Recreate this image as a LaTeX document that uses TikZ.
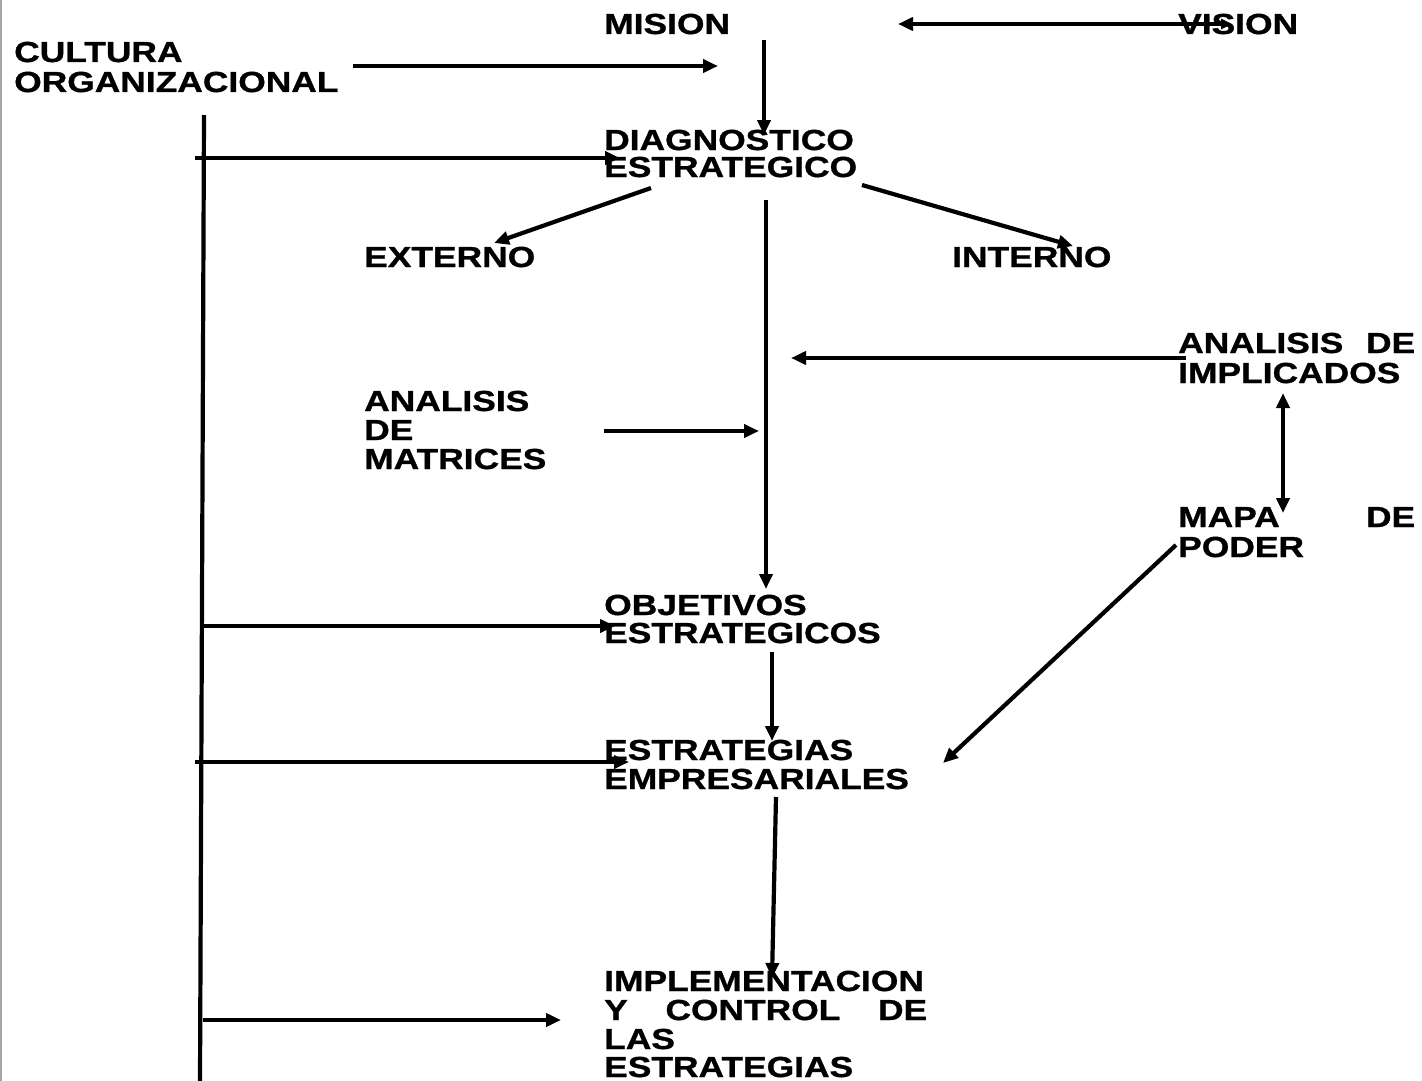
\documentclass[tikz,border=0pt]{standalone}
\usepackage{fontspec}
\setmainfont{Liberation Sans}[FakeStretch=1.22, BoldFeatures={FakeBold=1}]
\usetikzlibrary{arrows.meta}
\begin{document}
\begin{tikzpicture}[x=1pt,y=-1pt,
  lbl/.style={anchor=base west, inner sep=0pt, align=left,
    font=\fontsize{29}{29}\selectfont\bfseries},
  tip/.tip={Triangle[length=15pt,width=13pt]},
  conn/.style={line width=4.2pt, -tip},
  plainline/.style={line width=4.2pt},
  dbl/.style={line width=4.2pt, tip-tip}]
\fill[white] (0,0) rectangle (1422,1081);
\useasboundingbox (0,0) rectangle (1422,1081);
\draw[gray!70, line width=1.5pt] (1,0) -- (1,1081);

% nodes (anchor = baseline of the last line)
\node[lbl] (mision) at (604,34) {MISION};
\node[lbl] (vision) at (1178,34) {VISION};
\node[lbl] (cultura) at (14,92) {CULTURA\\[1pt]ORGANIZACIONAL};
\node[lbl] (diag) at (604,177) {DIAGNOSTICO\\[-2pt]ESTRATEGICO};
\node[lbl] (externo) at (364,267) {EXTERNO};
\node[lbl] (interno) at (952,267) {INTERNO};
\node[lbl] (implicados) at (1178,383) {\makebox[237pt][s]{ANALISIS DE}\\[1pt]IMPLICADOS};
\node[lbl] (matrices) at (364,469) {ANALISIS\\DE\\MATRICES};
\node[lbl] (mapa) at (1178,557) {\makebox[237pt][s]{MAPA DE}\\[1pt]PODER};
\node[lbl] (objetivos) at (604,643) {OBJETIVOS\\[-1pt]ESTRATEGICOS};
\node[lbl] (estrategias) at (604,789) {ESTRATEGIAS\\EMPRESARIALES};
\node[lbl] (impl) at (604,1077) {IMPLEMENTACION\\\makebox[323pt][s]{Y CONTROL DE}\\LAS\\[-1pt]ESTRATEGIAS};

% connector end points
\coordinate (culA) at (353,66);   \coordinate (culB) at (718,66);
\coordinate (visA) at (1232,24);  \coordinate (visB) at (898,24);
\coordinate (misA) at (764,40);   \coordinate (misB) at (764,135);
\coordinate (spineTop) at (204,115); \coordinate (spineBot) at (200,1081);
\coordinate (d1A) at (195,158);   \coordinate (d1B) at (620,158);
\coordinate (extA) at (651,188);  \coordinate (extB) at (494,243);
\coordinate (intA) at (862,185);  \coordinate (intB) at (1073,246);
\coordinate (dvA) at (766,200);   \coordinate (dvB) at (766,589);
\coordinate (impA) at (1186,358); \coordinate (impB) at (791,358);
\coordinate (matA) at (604,431);  \coordinate (matB) at (759,431);
\coordinate (dbA) at (1283,393);  \coordinate (dbB) at (1283,513);
\coordinate (mapA) at (1176,545); \coordinate (mapB) at (943,763);
\coordinate (o1A) at (204,626);   \coordinate (o1B) at (615,626);
\coordinate (ovA) at (772,652);   \coordinate (ovB) at (772,741);
\coordinate (e1A) at (195,762);   \coordinate (e1B) at (629,762);
\coordinate (evA) at (776,797);   \coordinate (evB) at (772,978);
\coordinate (i1A) at (203,1020);  \coordinate (i1B) at (561,1020);

% connectors
\draw[line width=4.2pt, tip-{Triangle[length=11pt,width=10pt]}] (visB) -- (visA);
\draw[conn] (culA) -- (culB);
\draw[conn] (misA) -- (misB);
\draw[plainline] (spineTop) -- (spineBot);
\draw[conn] (d1A) -- (d1B);
\draw[conn] (extA) -- (extB);
\draw[conn] (intA) -- (intB);
\draw[conn] (dvA) -- (dvB);
\draw[conn] (impA) -- (impB);
\draw[conn] (matA) -- (matB);
\draw[dbl] (dbA) -- (dbB);
\draw[conn] (mapA) -- (mapB);
\draw[conn] (o1A) -- (o1B);
\draw[conn] (ovA) -- (ovB);
\draw[conn] (e1A) -- (e1B);
\draw[conn] (evA) -- (evB);
\draw[conn] (i1A) -- (i1B);
\end{tikzpicture}
\end{document}
